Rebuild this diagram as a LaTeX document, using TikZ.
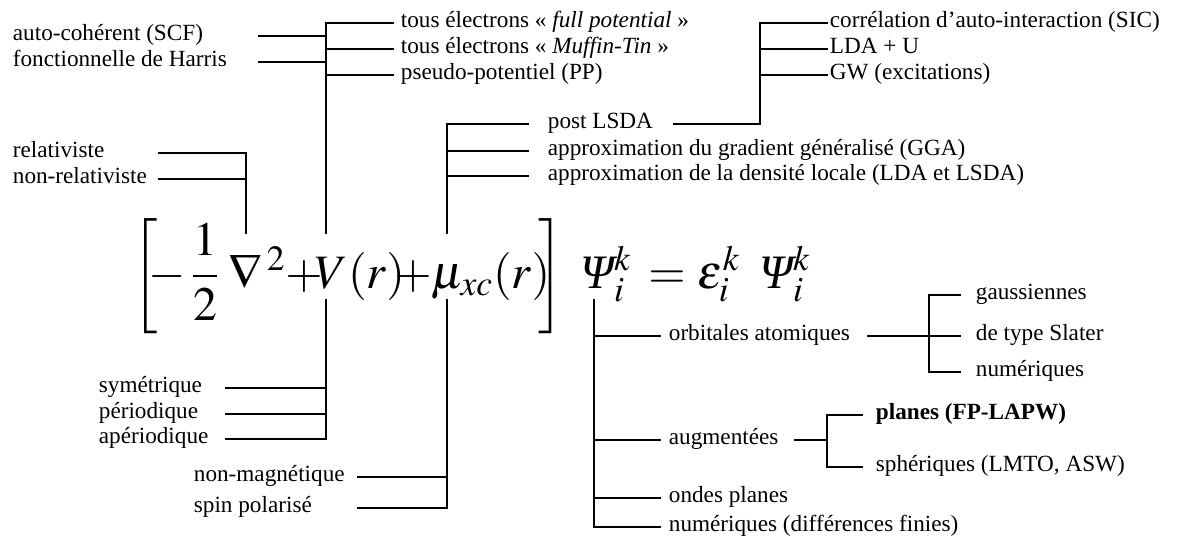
\documentclass[tikz,border=0pt]{standalone}
\usepackage{amsmath}
\usepackage{mathptmx}
\usepackage{fontspec}
\setmainfont{Liberation Serif}
\usetikzlibrary{calc}
\tikzset{lbl/.style={inner sep=0pt, anchor=mid west, font=\fontsize{11.6}{14}\selectfont},
  eqn/.style={inner sep=0pt, anchor=base, font=\fontsize{24}{28}\selectfont}}

\begin{document}
\begin{tikzpicture}[x=0.5pt, y=-0.5pt, line width=0.9pt, line cap=rect]
  \useasboundingbox (0,0) rectangle (1179,536);
  % Kohn-Sham equation
  \node[eqn] (lbr) at (146,288) {$\left[\vcenter{\hbox{\rule{0pt}{55pt}}}\right.$};
  \node[eqn] (minus) at (167,288) {$-$};
  \node[eqn] (frac) at (205,288) {$\dfrac{1}{2}$};
  \node[eqn] (nab) at (246,288) {$\nabla$};
  \node[eqn, anchor=base west] (sq) at (266,288) {$^{2}$};
  \node[eqn] (plusA) at (304,288) {$+$};
  \node[eqn] (pot) at (360,288) {$V(r)$};
  \node[eqn] (plusB) at (413,288) {$+$};
  \node[eqn] (xc) at (491,288) {$\mu_{xc}(r)$};
  \node[eqn] (rbr) at (550,288) {$\left.\vcenter{\hbox{\rule{0pt}{55pt}}}\right]$};
  \node[eqn] (psiA) at (606,288) {$\mbox{\itshape Ψ}^{k}_{i}$};
  \node[eqn] (eq) at (667,288) {$=$};
  \node[eqn] (eps) at (719,288) {$\epsilon^{k}_{i}$};
  \node[eqn] (psiB) at (785,288) {$\mbox{\itshape Ψ}^{k}_{i}$};
  \coordinate (nabU) at (246,233);
  \coordinate (potU) at (326,233);
  \coordinate (potD) at (326,300);
  \coordinate (xcU) at (447,233);
  \coordinate (xcD) at (447,300);
  \coordinate (psiD) at (594,300);
  \coordinate (busP) at (760,124);
  \coordinate (busO) at (929,336);
  \coordinate (busA) at (827,440);
  % labels, top half
  \node[lbl] (scf) at (12,36) {auto-cohérent (SCF)};
  \node[lbl] (harris) at (12,62) {fonctionnelle de Harris};
  \node[lbl] (rel) at (12,153) {relativiste};
  \node[lbl] (nonrel) at (12,179) {non-relativiste};
  \node[lbl] (fp) at (400,23) {tous électrons « \textit{full potential} »};
  \node[lbl] (mt) at (400,49) {tous électrons « \textit{Muffin-Tin} »};
  \node[lbl] (pp) at (400,75) {pseudo-potentiel (PP)};
  \node[lbl] (post) at (547,124) {post LSDA};
  \node[lbl] (gga) at (547,151) {approximation du gradient généralisé (GGA)};
  \node[lbl] (lda) at (547,176) {approximation de la densité locale (LDA et LSDA)};
  \node[lbl] (sic) at (829,23) {corrélation d'auto-interaction (SIC)};
  \node[lbl] (ldau) at (829,49) {LDA + U};
  \node[lbl] (gw) at (829,75) {GW (excitations)};
  % labels, bottom half
  \node[lbl] (sym) at (98,388) {symétrique};
  \node[lbl] (per) at (98,414) {périodique};
  \node[lbl] (aper) at (98,439) {apériodique};
  \node[lbl] (nonmag) at (193,477) {non-magnétique};
  \node[lbl] (spin) at (193,508) {spin polarisé};
  \node[lbl] (orb) at (668,336) {orbitales atomiques};
  \node[lbl] (aug) at (668,440) {augmentées};
  \node[lbl] (ondes) at (668,498) {ondes planes};
  \node[lbl] (numdf) at (668,527) {numériques (différences finies)};
  \node[lbl] (gauss) at (975,295) {gaussiennes};
  \node[lbl] (slater) at (975,336) {de type Slater};
  \node[lbl] (numer) at (975,372) {numériques};
  \node[lbl, font=\fontsize{11.6}{14}\selectfont\bfseries] (planes) at (875,415) {planes (FP-LAPW)};
  \node[lbl] (spher) at (875,467) {sphériques (LMTO, ASW)};
  % brackets above the equation
  \draw (potU |- fp.mid) -- (potU);
  \foreach \n in {fp,mt,pp} \draw (potU |- \n.mid) -- ++(67,0);
  \foreach \n in {scf,harris} \draw (potU |- \n.mid) -- ++(-67,0);
  \draw (nabU |- rel.mid) -- (nabU);
  \foreach \n in {rel,nonrel} \draw (nabU |- \n.mid) -- ++(-87,0);
  \draw (xcU |- post.mid) -- (xcU);
  \foreach \n in {post,gga,lda} \draw (xcU |- \n.mid) -- ++(81,0);
  \draw ([xshift=10pt]post.mid east) -- (busP) -- (busP |- sic.mid);
  \foreach \n in {sic,ldau,gw} \draw (busP |- \n.mid) -- ([xshift=-1pt]\n.mid west);
  % brackets below the equation
  \draw (potD) -- (potD |- aper.mid);
  \foreach \n in {sym,per,aper} \draw (potD |- \n.mid) -- ++(-100,0);
  \draw (xcD) -- (xcD |- spin.mid);
  \foreach \n in {nonmag,spin} \draw (xcD |- \n.mid) -- ++(-89,0);
  \draw (psiD) -- (psiD |- numdf.mid);
  \foreach \n in {orb,aug,ondes,numdf} \draw (psiD |- \n.mid) -- ([xshift=-4pt]\n.mid west);
  \draw ([xshift=8.5pt]orb.mid east) -- ([xshift=-7.5pt]slater.mid west);
  \draw (busO |- gauss.mid) -- (busO |- numer.mid);
  \foreach \n in {gauss,numer} \draw (busO |- \n.mid) -- ([xshift=-7.5pt]\n.mid west);
  \draw ([xshift=8pt]aug.mid east) -- (busA);
  \draw (busA |- planes.mid) -- (busA |- spher.mid);
  \foreach \n in {planes,spher} \draw (busA |- \n.mid) -- ([xshift=-6.5pt]\n.mid west);
\end{tikzpicture}
\end{document}
